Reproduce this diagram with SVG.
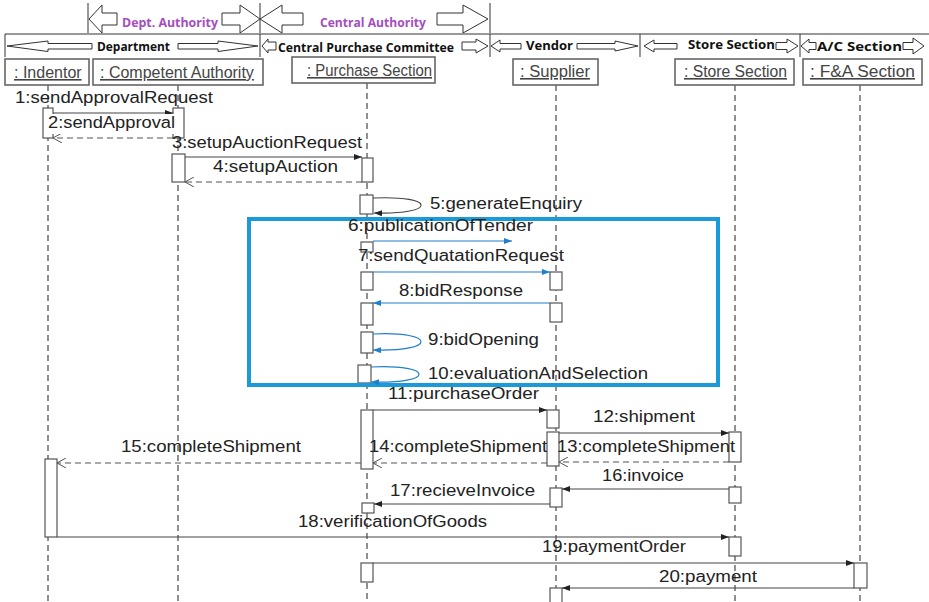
<svg xmlns="http://www.w3.org/2000/svg" width="929" height="602" viewBox="0 0 929 602">
<style>
.bg{fill:#fff}
.hdr{fill:#fff;stroke:#333;stroke-width:1}
.div{stroke:#333;stroke-width:1}
.ht{font-family:"Open Sans","Liberation Sans",sans-serif;font-weight:bold;font-size:12px;fill:#111}
.hp{font-family:"Open Sans","Liberation Sans",sans-serif;font-weight:bold;font-size:12px;fill:#A64CC0}
.lb{fill:#fff;stroke:#666;stroke-width:1.6}
.lt{font-family:"Liberation Sans",Arial,sans-serif;font-size:16px;fill:#444;text-decoration:underline}
.ll{stroke:#555;stroke-width:1.3;stroke-dasharray:6,4;fill:none}
.act{fill:#fff;stroke:#555;stroke-width:1.2}
.m{font-family:"Liberation Sans",Arial,sans-serif;font-size:16px;fill:#222}
.sync{stroke:#444;stroke-width:1.1;fill:none;marker-end:url(#fa)}
.ret{stroke:#555;stroke-width:1.1;fill:none;stroke-dasharray:6,4;marker-end:url(#oa)}
.blu{stroke:#1F7FC8;stroke-width:1.2;fill:none;marker-end:url(#ba)}
</style>
<defs>
<marker id="fa" viewBox="0 0 8 6" refX="8" refY="3" markerWidth="8" markerHeight="6" markerUnits="userSpaceOnUse" orient="auto"><path d="M0,0 L8,3 L0,6 z" fill="#222"/></marker>
<marker id="ba" viewBox="0 0 8 6" refX="8" refY="3" markerWidth="8" markerHeight="6" markerUnits="userSpaceOnUse" orient="auto"><path d="M0,0 L8,3 L0,6 z" fill="#1F7FC8"/></marker>
<marker id="oa" viewBox="0 0 9 10" refX="9" refY="5" markerWidth="9" markerHeight="10" markerUnits="userSpaceOnUse" orient="auto"><path d="M0,0 L9,5 L0,10" fill="none" stroke="#555" stroke-width="1"/></marker>
</defs>
<rect class="bg" x="0" y="0" width="929" height="602"/>

<g id="header">
  <line class="div" x1="88" y1="3" x2="88" y2="33"/>
  <line class="div" x1="260" y1="3" x2="260" y2="33"/>
  <line class="div" x1="490" y1="3" x2="490" y2="33"/>
  <polygon class="hdr" points="89,19 102,5 102,13 117,13 117,25 102,25 102,33"/>
  <polygon class="hdr" points="222,13 240,13 240,5 260,19 240,33 240,25 222,25"/>
  <polygon class="hdr" points="260,19 282,5 282,13 303,13 303,25 282,25 282,33"/>
  <polygon class="hdr" points="437,13 463,13 463,5 488,19 463,33 463,25 437,25"/>
  <text class="hp" x="122" y="27" textLength="96" lengthAdjust="spacingAndGlyphs">Dept. Authority</text>
  <text class="hp" x="320" y="27" textLength="106" lengthAdjust="spacingAndGlyphs">Central Authority</text>

  <line class="div" x1="5" y1="34" x2="929" y2="34"/>
  <line class="div" x1="5" y1="34" x2="5" y2="57"/>
  <line class="div" x1="260" y1="34" x2="260" y2="57"/>
  <line class="div" x1="490" y1="34" x2="490" y2="57"/>
  <line class="div" x1="640" y1="34" x2="640" y2="57"/>
  <line class="div" x1="800" y1="34" x2="800" y2="57"/>
  <polygon class="hdr" points="7,46 48,41 48,43.5 92,43.5 92,49 48,49 48,51.5"/>
  <polygon class="hdr" points="178,43.5 218,43.5 218,41 258,46 218,51.5 218,49 178,49"/>
  <polygon class="hdr" points="262,46 268,39 268,42 276,42 276,50 268,50 268,53"/>
  <polygon class="hdr" points="462,42 476,42 476,39 488,46 476,53 476,50 462,50"/>
  <polygon class="hdr" points="491,46 500,40 500,43.5 521,43.5 521,49 500,49 500,52"/>
  <polygon class="hdr" points="577,43.5 615,43.5 615,41 638,46 615,51 615,49 577,49"/>
  <polygon class="hdr" points="644,46 654,40 654,43.5 677,43.5 677,49 654,49 654,52"/>
  <polygon class="hdr" points="776,42.5 787,42.5 787,39 798,46 787,53 787,49.5 776,49.5"/>
  <polygon class="hdr" points="801,46 809,39 809,42.5 816,42.5 816,49.5 809,49.5 809,53"/>
  <polygon class="hdr" points="903,42.5 913,42.5 913,38 924,46 913,54 913,49.5 903,49.5"/>
  <text class="ht" x="97" y="51" textLength="73" lengthAdjust="spacingAndGlyphs">Department</text>
  <text class="ht" x="278" y="52" textLength="176" lengthAdjust="spacingAndGlyphs">Central Purchase Committee</text>
  <text class="ht" x="526" y="50" textLength="47" lengthAdjust="spacingAndGlyphs">Vendor</text>
  <text class="ht" x="688" y="49" textLength="87" lengthAdjust="spacingAndGlyphs">Store Section</text>
  <text class="ht" x="817" y="51" textLength="85" lengthAdjust="spacingAndGlyphs">A/C Section</text>
</g>

<g id="lifelines">
  <line class="ll" x1="48" y1="85" x2="48" y2="602"/>
  <line class="ll" x1="178" y1="85" x2="178" y2="602"/>
  <line class="ll" x1="367" y1="83" x2="367" y2="602"/>
  <line class="ll" x1="556" y1="85" x2="556" y2="602"/>
  <line class="ll" x1="735" y1="85" x2="735" y2="602"/>
  <line class="ll" x1="860" y1="85" x2="860" y2="602"/>
</g>

<g id="indentor">
  <rect class="lb" x="5" y="59" width="84" height="26"/>
  <text class="lt" x="14" y="78">: Indentor</text>
  <rect class="act" x="43" y="108" width="10" height="30"/>
  <rect class="act" x="45" y="459" width="12" height="78"/>
</g>
<g id="competent-authority">
  <rect class="lb" x="93" y="59" width="170" height="26"/>
  <text class="lt" x="100" y="78">: Competent Authority</text>
  <rect class="act" x="173" y="108" width="11" height="30"/>
  <rect class="act" x="172" y="154" width="13" height="28"/>
</g>
<g id="purchase-section">
  <rect class="lb" x="292" y="57" width="143" height="26"/>
  <text class="lt" x="307" y="76" textLength="125" lengthAdjust="spacingAndGlyphs">: Purchase Section</text>
  <rect class="act" x="362" y="158" width="11" height="24"/>
  <rect class="act" x="360" y="195" width="13" height="19"/>
  <rect class="act" x="361" y="242" width="12" height="10"/>
  <rect class="act" x="361" y="272" width="12" height="18"/>
  <rect class="act" x="361" y="303" width="12" height="22"/>
  <rect class="act" x="361" y="332" width="12" height="21"/>
  <rect class="act" x="358" y="365" width="13" height="18"/>
  <rect class="act" x="361" y="410" width="12" height="59"/>
  <rect class="act" x="362" y="503" width="12" height="10"/>
  <rect class="act" x="361" y="563" width="12" height="19"/>
</g>
<g id="supplier">
  <rect class="lb" x="513" y="59" width="85" height="26"/>
  <text class="lt" x="520" y="77" textLength="70" lengthAdjust="spacingAndGlyphs">: Supplier</text>
  <rect class="act" x="550" y="272" width="12" height="18"/>
  <rect class="act" x="550" y="303" width="12" height="19"/>
  <rect class="act" x="547" y="410" width="12" height="18"/>
  <rect class="act" x="547" y="432" width="12" height="34"/>
  <rect class="act" x="550" y="488" width="12" height="19"/>
  <rect class="act" x="550" y="588" width="12" height="16"/>
</g>
<g id="store-section">
  <rect class="lb" x="675" y="59" width="119" height="26"/>
  <text class="lt" x="684" y="77" textLength="103" lengthAdjust="spacingAndGlyphs">: Store Section</text>
  <rect class="act" x="729" y="432" width="12" height="30"/>
  <rect class="act" x="729" y="487" width="12" height="16"/>
  <rect class="act" x="729" y="537" width="12" height="19"/>
</g>
<g id="fa-section">
  <rect class="lb" x="803" y="59" width="119" height="26"/>
  <text class="lt" x="810" y="77" textLength="105" lengthAdjust="spacingAndGlyphs">: F&amp;A Section</text>
  <rect class="act" x="854" y="563" width="13" height="25"/>
</g>

<g id="highlight">
  <rect x="249" y="219" width="469" height="166" fill="none" stroke="#1A9AD8" stroke-width="4"/>
</g>

<g id="connectors">
  <path class="sync" d="M53,113 H173"/>
  <path class="ret" d="M173,138 H53"/>
  <path class="sync" d="M185,157 H362"/>
  <path class="ret" d="M362,182 H185"/>
  <path class="sync" d="M373,198 C437,195 437,215 374,213"/>
  <path class="blu" d="M373,241 H512"/>
  <path class="blu" d="M373,272 H550"/>
  <path class="blu" d="M550,303 H373"/>
  <path class="blu" d="M373,334 C437,331 437,352 373,350"/>
  <path class="blu" d="M371,367 C435,364 435,384 371,382"/>
  <path class="sync" d="M373,410 H547"/>
  <path class="sync" d="M559,433 H729"/>
  <path class="ret" d="M729,462 H559"/>
  <path class="ret" d="M547,463 H373"/>
  <path class="ret" d="M361,463 H57"/>
  <path class="sync" d="M729,489 H562"/>
  <path class="sync" d="M550,504 H374"/>
  <path class="sync" d="M57,537 H729"/>
  <path class="sync" d="M373,563 H854"/>
  <path class="sync" d="M854,588 H562"/>
</g>

<g id="labels">
  <text class="m" x="15" y="103" textLength="198" lengthAdjust="spacingAndGlyphs">1:sendApprovalRequest</text>
  <rect x="45" y="114" width="136" height="20" fill="#fff"/>
  <text class="m" x="48" y="128" textLength="127" lengthAdjust="spacingAndGlyphs">2:sendApproval</text>
  <text class="m" x="172" y="148" textLength="190" lengthAdjust="spacingAndGlyphs">3:setupAuctionRequest</text>
  <text class="m" x="213" y="172" textLength="125" lengthAdjust="spacingAndGlyphs">4:setupAuction</text>
  <text class="m" x="430" y="209" textLength="152" lengthAdjust="spacingAndGlyphs">5:generateEnquiry</text>
  <text class="m" x="348" y="231" textLength="185" lengthAdjust="spacingAndGlyphs">6:publicationOfTender</text>
  <text class="m" x="358" y="261" textLength="206" lengthAdjust="spacingAndGlyphs">7:sendQuatationRequest</text>
  <text class="m" x="399" y="296" textLength="124" lengthAdjust="spacingAndGlyphs">8:bidResponse</text>
  <text class="m" x="428" y="345" textLength="111" lengthAdjust="spacingAndGlyphs">9:bidOpening</text>
  <text class="m" x="428" y="379" textLength="220" lengthAdjust="spacingAndGlyphs">10:evaluationAndSelection</text>
  <text class="m" x="388" y="399" textLength="151" lengthAdjust="spacingAndGlyphs">11:purchaseOrder</text>
  <text class="m" x="593" y="422" textLength="102" lengthAdjust="spacingAndGlyphs">12:shipment</text>
  <text class="m" x="557" y="452" textLength="178" lengthAdjust="spacingAndGlyphs">13:completeShipment</text>
  <text class="m" x="369" y="452" textLength="178" lengthAdjust="spacingAndGlyphs">14:completeShipment</text>
  <text class="m" x="121" y="452" textLength="180" lengthAdjust="spacingAndGlyphs">15:completeShipment</text>
  <text class="m" x="602" y="481" textLength="82" lengthAdjust="spacingAndGlyphs">16:invoice</text>
  <text class="m" x="390" y="496" textLength="145" lengthAdjust="spacingAndGlyphs">17:recieveInvoice</text>
  <text class="m" x="298" y="527" textLength="189" lengthAdjust="spacingAndGlyphs">18:verificationOfGoods</text>
  <text class="m" x="542" y="552" textLength="144" lengthAdjust="spacingAndGlyphs">19:paymentOrder</text>
  <text class="m" x="659" y="582" textLength="98" lengthAdjust="spacingAndGlyphs">20:payment</text>
</g>
</svg>
